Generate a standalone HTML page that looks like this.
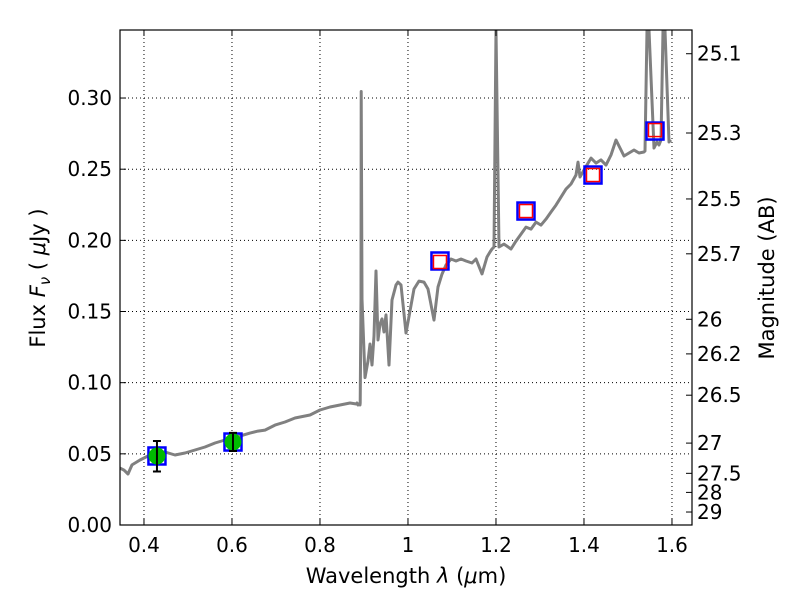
<!DOCTYPE html>
<html><head><meta charset="utf-8"><style>
body{margin:0;background:#fff;}
svg{font-family:"DejaVu Sans","Liberation Sans",sans-serif;}
</style></head><body>
<svg id="chart" width="800" height="600" xmlns="http://www.w3.org/2000/svg">
<rect x="0" y="0" width="800" height="600" fill="#fff"/>
<g id="grid"></g>
<g id="plot"></g>
<g id="axes"></g>
<text x="406" y="583" font-size="21" text-anchor="middle">Wavelength  <tspan font-style="italic">λ</tspan> (<tspan font-style="italic">μ</tspan>m)</text>
<text transform="translate(45,278) rotate(-90)" font-size="21" text-anchor="middle">Flux  <tspan font-style="italic">F</tspan><tspan font-style="italic" font-size="15" dy="5">ν</tspan><tspan dy="-5">  ( </tspan><tspan font-style="italic">μ</tspan>Jy )</text>
<text transform="translate(774,278) rotate(-90)" font-size="21" text-anchor="middle">Magnitude (AB)</text>
</svg>
<script>
const specWave = [0.3455,0.3545,0.3636,0.3727,0.3909,0.4,0.4136,0.4273,0.4477,0.4705,0.4932,0.5159,0.5386,0.5614,0.5841,0.6,0.6182,0.6409,0.6591,0.675,0.6977,0.7205,0.7432,0.7773,0.8,0.8227,0.8455,0.8682,0.8827,0.8841,0.8864,0.8886,0.8909,0.8914,0.8932,0.8936,0.8955,0.9023,0.9091,0.9136,0.9182,0.9227,0.9273,0.9318,0.9364,0.9409,0.9455,0.95,0.9568,0.9636,0.9727,0.9773,0.9841,0.9955,1.0136,1.025,1.0364,1.0455,1.0591,1.0682,1.0773,1.0864,1.0977,1.1091,1.1205,1.1318,1.1455,1.1545,1.1682,1.1795,1.1864,1.1909,1.1955,1.2,1.2068,1.2182,1.2341,1.2455,1.2568,1.2682,1.2795,1.2909,1.3023,1.3136,1.325,1.3364,1.3477,1.3591,1.3705,1.3818,1.3864,1.3909,1.4,1.4159,1.4273,1.4386,1.45,1.4614,1.4727,1.4909,1.5136,1.525,1.5364,1.5386,1.5432,1.5477,1.5591,1.5659,1.5705,1.575,1.5795,1.5841,1.5932,1.5977];
const specFlux = [0.0400,0.0386,0.0358,0.0422,0.0457,0.0471,0.0492,0.0513,0.0513,0.0492,0.0506,0.0527,0.0548,0.0576,0.0597,0.0611,0.0625,0.0646,0.0660,0.0667,0.0702,0.0724,0.0752,0.0773,0.0808,0.0829,0.0843,0.0857,0.0850,0.0857,0.0843,0.0850,0.0843,0.0857,0.1588,0.3046,0.1588,0.1036,0.1152,0.1272,0.1124,0.1328,0.1785,0.1300,0.1412,0.1448,0.1356,0.1476,0.1124,0.1581,0.1686,0.1707,0.1686,0.1349,0.1658,0.1714,0.1707,0.1658,0.1440,0.1672,0.1763,0.1827,0.1869,0.1855,0.1869,0.1855,0.1841,0.1869,0.1764,0.1883,0.1918,0.1939,0.1953,0.3478,0.1953,0.1974,0.1939,0.1995,0.2044,0.2093,0.2079,0.2128,0.2107,0.2149,0.2199,0.2248,0.2304,0.2360,0.2396,0.2459,0.2550,0.2445,0.2494,0.2578,0.2543,0.2565,0.2529,0.2600,0.2705,0.2593,0.2635,0.2614,0.2621,0.2628,0.3478,0.3478,0.2649,0.2691,0.2670,0.2705,0.3478,0.3478,0.2691,0.2705];
const optWave = [0.4295,0.6023];
const optFlux = [0.0485,0.0583];
const optErrLo = [0.0376,0.0520];
const optErrHi = [0.0590,0.0647];
const nirWave = [1.0727,1.2682,1.4205,1.5614];
const nirFlux = [0.1848,0.2206,0.2459,0.2775];
const modelWave = [0.4295,0.6023,1.0727,1.2682,1.4205,1.5614];
const modelFlux = [0.0485,0.0583,0.1855,0.2206,0.2459,0.2768];
const xTicks = [0.4,0.6,0.8,1.0,1.2,1.4,1.6];
const xTickLabels = ["0.4","0.6","0.8","1","1.2","1.4","1.6"];
const yTicks = [0,0.05,0.10,0.15,0.20,0.25,0.30];
const yTickLabels = ["0.00","0.05","0.10","0.15","0.20","0.25","0.30"];
const magTicks = [25.1,25.3,25.5,25.7,26,26.2,26.5,27,27.5,28,29];
const magTickLabels = ["25.1","25.3","25.5","25.7","26","26.2","26.5","27","27.5","28","29"];

const L=120,R=692,T=30,B=525;
const xMin=0.3455,xMax=1.6455,yMin=0,yMax=0.3478;
const sx=v=>L+(v-xMin)/(xMax-xMin)*(R-L);
const sy=v=>B-(v-yMin)/(yMax-yMin)*(B-T);
const NS="http://www.w3.org/2000/svg";
function mk(parent,tag,attrs){const e=document.createElementNS(NS,tag);for(const k in attrs)e.setAttribute(k,attrs[k]);parent.appendChild(e);return e;}
const grid=document.getElementById('grid'),plot=document.getElementById('plot'),axes=document.getElementById('axes');

xTicks.forEach((t,i)=>{
  const g=mk(grid,'line',{x1:sx(t),x2:sx(t),y1:T,y2:B,stroke:'#000','stroke-width':1,'stroke-dasharray':'1,3'});
  
  
  const tk=mk(axes,'line',{x1:sx(t),x2:sx(t),y1:B,y2:B-6,stroke:'#000'});
  
  
  const tk2=mk(axes,'line',{x1:sx(t),x2:sx(t),y1:T,y2:T+6,stroke:'#000'});
  
  
  const tx=mk(axes,'text',{x:sx(t),y:B+27,'font-size':20,'text-anchor':'middle'});
  tx.textContent=xTickLabels[i];
  
  
});
yTicks.forEach((t,i)=>{
  const g=mk(grid,'line',{x1:L,x2:R,y1:sy(t),y2:sy(t),stroke:'#000','stroke-width':1,'stroke-dasharray':'1,3'});
  
  
  const tk=mk(axes,'line',{x1:L,x2:L+6,y1:sy(t),y2:sy(t),stroke:'#000'});
  
  
  const tx=mk(axes,'text',{x:L-8,y:sy(t)+7,'font-size':20,'text-anchor':'end'});
  tx.textContent=yTickLabels[i];
  
  
});
magTicks.forEach((m,i)=>{
  const f=Math.pow(10,(23.9-m)/2.5);
  const y=sy(f);
  const tk=mk(axes,'line',{x1:R,x2:R-6,y1:y,y2:y,stroke:'#000'});
  
  
  const tx=mk(axes,'text',{x:R+5,y:y+7,'font-size':20});
  tx.textContent=magTickLabels[i];
  
  
});

const cp=mk(plot,'clipPath',{id:'clip'});
mk(cp,'rect',{x:L,y:T,width:R-L,height:B-T});
const pts=specWave.map((w,i)=>sx(w).toFixed(1)+','+sy(specFlux[i]).toFixed(1)).join(' ');
const line=mk(plot,'polyline',{points:pts,fill:'none',stroke:'#808080','stroke-width':3,'stroke-linejoin':'round','clip-path':'url(#clip)'});



modelWave.forEach((w,i)=>{
  const r=mk(plot,'rect',{x:sx(w)-8.5,y:sy(modelFlux[i])-8.5,width:17,height:17,fill:'none',stroke:'#0000ff','stroke-width':2.5});
  
  
});
nirWave.forEach((w,i)=>{
  const r=mk(plot,'rect',{x:sx(w)-6.5,y:sy(nirFlux[i])-6.5,width:13,height:13,fill:'none',stroke:'#ff0000','stroke-width':1.5});
  
  
});
optWave.forEach((w,i)=>{
  const x=sx(w);
  const c=mk(plot,'circle',{cx:x,cy:sy(optFlux[i]),r:8.5,fill:'#00bb00'});
  
  
  const e=mk(plot,'path',{d:`M${x},${sy(optErrLo[i])}V${sy(optErrHi[i])}M${x-4},${sy(optErrLo[i])}h8M${x-4},${sy(optErrHi[i])}h8`,stroke:'#000','stroke-width':2,fill:'none'});
  
  
});
const frame=mk(axes,'rect',{x:L,y:T,width:R-L,height:B-T,fill:'none',stroke:'#000','stroke-width':1.2});


</script>
</body></html>
